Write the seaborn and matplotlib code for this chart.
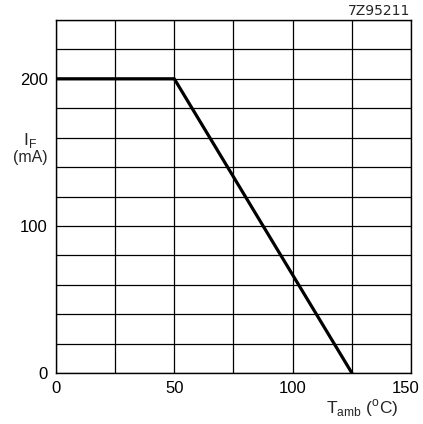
import matplotlib
matplotlib.use("Agg")
import matplotlib.pyplot as plt
import matplotlib.transforms as mtransforms
import seaborn as sns
import pandas as pd

temp_c = [0, 50, 125]
current_ma = [200, 200, 0]
x_ticks = [0, 50, 100, 150]
y_ticks = [0, 100, 200]

sns.set_theme(style="white")
plt.rcParams['font.family'] = ['Liberation Sans', 'DejaVu Sans']

fig = plt.figure(figsize=(4.23, 4.24), dpi=100)
ax = fig.add_axes([0.132, 0.120, 0.840, 0.833])

df = pd.DataFrame({"T": temp_c, "I": current_ma})
sns.lineplot(data=df, x="T", y="I", ax=ax, color="black", linewidth=2.3, zorder=3)

ax.set_xlim(0, 150)
ax.set_ylim(0, 240)
for gx in range(0, 151, 25):
    ax.axvline(gx, color="black", linewidth=0.9, zorder=1)
for gy in range(0, 241, 20):
    ax.axhline(gy, color="black", linewidth=0.9, zorder=1)
for s in ax.spines.values():
    s.set_color("black")
    s.set_linewidth(1.0)

ax.set_xticks(x_ticks)
ax.set_xticklabels([str(v) for v in x_ticks], fontsize=12)
ax.set_yticks(y_ticks)
ax.set_yticklabels([str(v) for v in y_ticks], fontsize=12)
ax.tick_params(axis="x", length=0, pad=6, colors="black")
ax.tick_params(axis="y", length=0, pad=6, colors="black")
ax.set_xlabel("")
ax.set_ylabel("")

last = ax.get_xticklabels()[-1]
last.set_transform(last.get_transform() + mtransforms.ScaledTranslation(-6 / 100, 0, fig.dpi_scale_trans))

fig.text(0.072, 0.668, "I$_\\mathregular{F}$", fontsize=12.5, ha="center", va="center")
fig.text(0.072, 0.628, "(mA)", fontsize=11.5, ha="center", va="center")
fig.text(0.855, 0.037, "T$_\\mathregular{amb}$ ($^\\mathregular{o}$C)", fontsize=12.5, ha="center", va="center")
fig.text(0.97, 0.975, "7Z95211", fontsize=10, ha="right", va="center", family="DejaVu Sans")

fig.savefig("out.png", dpi=100, facecolor="white")
